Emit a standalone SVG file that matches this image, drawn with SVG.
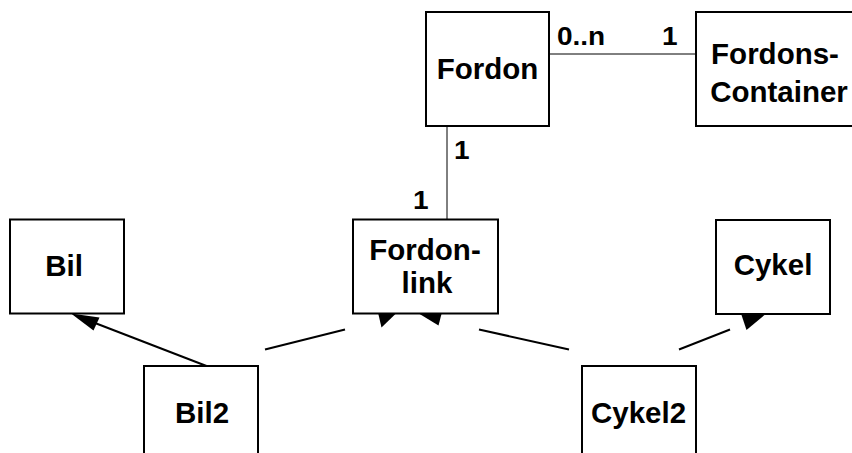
<svg xmlns="http://www.w3.org/2000/svg" width="852" height="453" viewBox="0 0 852 453">
  <style>
    .box { fill: #ffffff; stroke: #000000; stroke-width: 2; }
    .lbl { font-family: "Liberation Sans", Arial, sans-serif; font-weight: bold; font-size: 29.5px; text-anchor: middle; fill: #000000; }
    .mult { font-family: "Liberation Sans", Arial, sans-serif; font-weight: bold; font-size: 25px; fill: #000000; }
    .assoc { stroke: #000000; stroke-width: 1; fill: none; }
    .gen { stroke: #000000; stroke-width: 2; fill: none; }
    .head { fill: #000000; stroke: none; }
  </style>

  <!-- connectors: associations, generalizations and their arrowheads -->
  <g id="connectors">
    <line class="assoc" x1="549" y1="54" x2="696" y2="54"/>
    <line class="assoc" x1="447" y1="126" x2="447" y2="219"/>

    <line class="gen" x1="206.5" y1="366" x2="95" y2="323"/>
    <polygon class="head" points="71,313.5 99.5,317.5 93.5,330.5"/>

    <line class="gen" x1="265" y1="349.5" x2="345" y2="329.5"/>
    <polygon class="head" points="378,312.5 397,312.5 381.5,327.5"/>

    <line class="gen" x1="569" y1="349.5" x2="479" y2="329.5"/>
    <polygon class="head" points="418,313 442,312 438.5,325.5"/>

    <line class="gen" x1="679" y1="349.5" x2="730" y2="329.5"/>
    <polygon class="head" points="741.5,315 764.5,315 746.5,330"/>

    <!-- multiplicities, set slightly wide -->
    <text class="mult" transform="translate(557,45) scale(1.12,1)">0..n</text>
    <text class="mult" transform="translate(662,45) scale(1.12,1)">1</text>
    <text class="mult" transform="translate(454,159) scale(1.12,1)">1</text>
    <text class="mult" transform="translate(413,209) scale(1.12,1)">1</text>
  </g>

  <g id="fordon">
    <rect class="box" x="426" y="12" width="123" height="114"/>
    <text class="lbl" x="487.5" y="79">Fordon</text>
  </g>

  <g id="fordons-container">
    <rect class="box" x="696" y="12" width="170" height="114"/>
    <text class="lbl" x="775" y="63.5">Fordons-</text>
    <text class="lbl" x="779" y="102">Container</text>
  </g>

  <g id="fordonlink">
    <rect class="box" x="353" y="219.5" width="145" height="94"/>
    <text class="lbl" x="425" y="260">Fordon-</text>
    <text class="lbl" x="427" y="293">link</text>
  </g>

  <g id="bil">
    <rect class="box" x="10" y="219.5" width="114" height="94"/>
    <text class="lbl" x="64" y="276">Bil</text>
  </g>

  <g id="cykel">
    <rect class="box" x="716" y="220" width="114" height="94"/>
    <text class="lbl" x="773" y="275">Cykel</text>
  </g>

  <g id="bil2">
    <rect class="box" x="144" y="366" width="114" height="100"/>
    <text class="lbl" x="202" y="422.5">Bil2</text>
  </g>

  <g id="cykel2">
    <rect class="box" x="582" y="366" width="114" height="100"/>
    <text class="lbl" x="638.5" y="422.5">Cykel2</text>
  </g>
</svg>
